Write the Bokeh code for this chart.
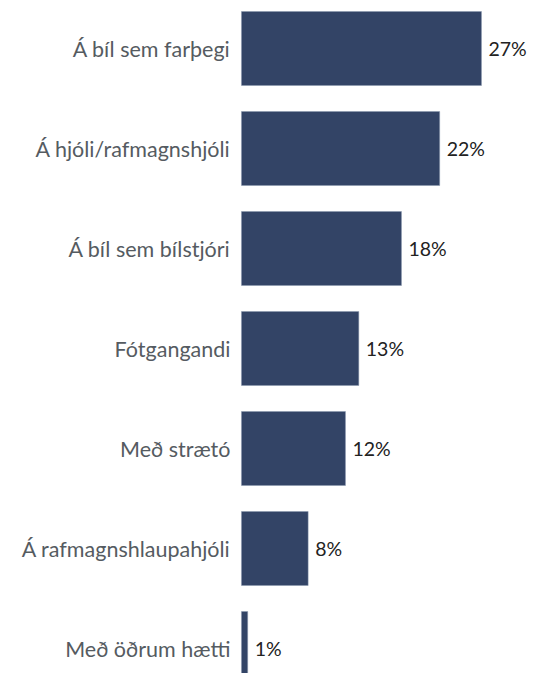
import numpy as np
from bokeh.plotting import figure
from bokeh.models import ColumnDataSource, Range1d
from bokeh.core.properties import value
from bokeh.embed import file_html
from bokeh.resources import INLINE

categories = [
    "Á bíl sem farþegi",
    "Á hjóli/rafmagnshjóli",
    "Á bíl sem bílstjóri",
    "Fótgangandi",
    "Með strætó",
    "Á rafmagnshlaupahjóli",
    "Með öðrum hætti",
]
shares = [27.0, 22.3, 18.0, 13.2, 11.7, 7.5, 0.7]
value_labels = ["27%", "22%", "18%", "13%", "12%", "8%", "1%"]

pos = np.arange(len(categories))
src = ColumnDataSource(dict(y=pos, cat=categories, v=shares, lab=value_labels))

p = figure(width=527, height=673, output_backend="svg", toolbar_location=None,
           x_range=Range1d(-27.11, 32.18), y_range=Range1d(6.25, -0.48),
           min_border=0)
p.axis.visible = False
p.grid.visible = False
p.outline_line_color = None
p.background_fill_color = "white"

p.hbar(y="y", left=0, right="v", height=0.74, source=src,
       fill_color="#334466", line_color="#8896ad", line_width=0.5)

FONT = "Lato"
p.text(x=0, y="y", text="cat", source=src, x_offset=-11,
       text_align="right", text_baseline="middle",
       text_font=value(FONT), text_font_size="21.5px", text_color="#555b61")
p.text(x="v", y="y", text="lab", source=src, x_offset=7,
       text_align="left", text_baseline="middle",
       text_font=value(FONT), text_font_size="19.5px", text_color="#222222")

open("out.html", "w").write(file_html(p, INLINE))
